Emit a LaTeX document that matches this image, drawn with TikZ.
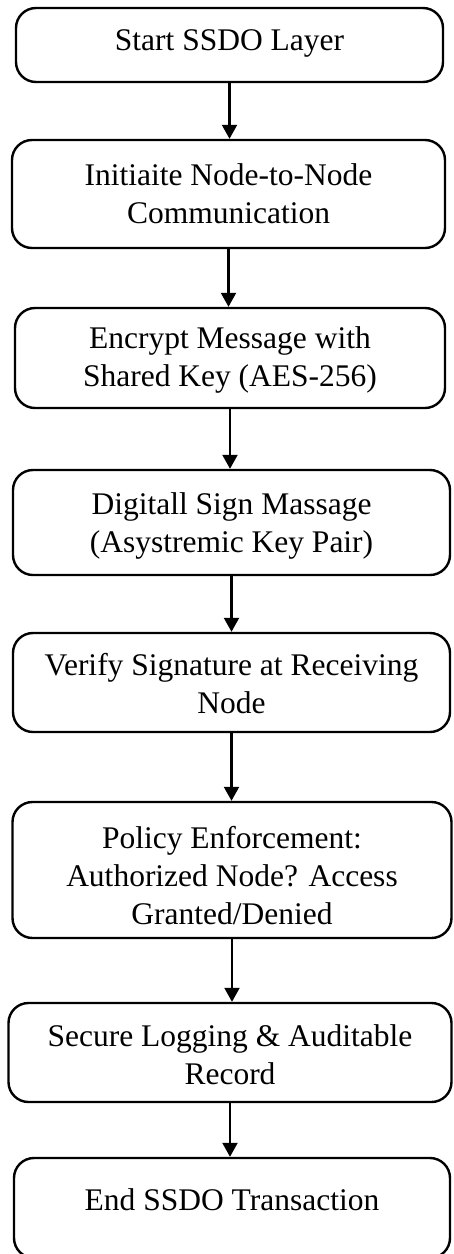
\documentclass[tikz,border=0pt]{standalone}
\usepackage{fontspec}
\setmainfont{Liberation Serif}
\usetikzlibrary{arrows.meta}
\begin{document}
\begin{tikzpicture}[x=1pt,y=-1pt,
  stepbox/.style={draw=black, line width=2.4pt, rounded corners=20pt, inner sep=0pt},
  lbl/.style={align=center, font=\fontsize{31.5}{38}\selectfont, inner sep=0pt},
  arr/.style={line width=2.2pt, -{Triangle[width=15pt,length=14pt]}}]
\path[fill=white] (0,0) rectangle (453,1254);
\useasboundingbox (0,0) rectangle (453,1254);

\node[stepbox, minimum width=427pt, minimum height=74pt] (b1) at (229.5,45) {};
\node[lbl] (t1) at (229.5,43) {Start SSDO Layer};

\node[stepbox, minimum width=433pt, minimum height=108pt] (b2) at (228.5,194) {};
\node[lbl] (t2) at (228.5,194) {Initiaite Node-to-Node\\Communication};

\node[stepbox, minimum width=430pt, minimum height=100pt] (b3) at (230,358) {};
\node[lbl] (t3) at (230,360) {Encrypt Message with\\Shared Key (AES-256)};

\node[stepbox, minimum width=437pt, minimum height=105pt] (b4) at (231.5,522.5) {};
\node[lbl] (t4) at (231.5,526) {Digitall Sign Massage\\(Asystremic Key Pair)};

\node[stepbox, minimum width=437pt, minimum height=99pt] (b5) at (231.5,682.5) {};
\node[lbl] (t5) at (231.5,684) {Verify Signature at Receiving\\Node};

\node[stepbox, minimum width=439pt, minimum height=136pt] (b6) at (232,870) {};
\node[lbl] (t6) at (232,876) {Policy Enforcement:\\Authorized Node? Access\\Granted/Denied};

\node[stepbox, minimum width=443pt, minimum height=99pt] (b7) at (230,1052.5) {};
\node[lbl] (t7) at (230,1055) {Secure Logging \& Auditable\\Record};

\node[stepbox, minimum width=436pt, minimum height=100pt] (b8) at (232,1208) {};
\node[lbl] (t8) at (232,1200) {End SSDO Transaction};

\draw[arr] (b1.south) -- (b1.south |- b2.north);
\draw[arr] (b2.south) -- (b2.south |- b3.north);
\draw[arr] (b3.south) -- (b3.south |- b4.north);
\draw[arr] (b4.south) -- (b4.south |- b5.north);
\draw[arr] (b5.south) -- (b5.south |- b6.north);
\draw[arr] (b6.south) -- (b6.south |- b7.north);
\draw[arr] (b7.south) -- (b7.south |- b8.north);
\end{tikzpicture}
\end{document}
